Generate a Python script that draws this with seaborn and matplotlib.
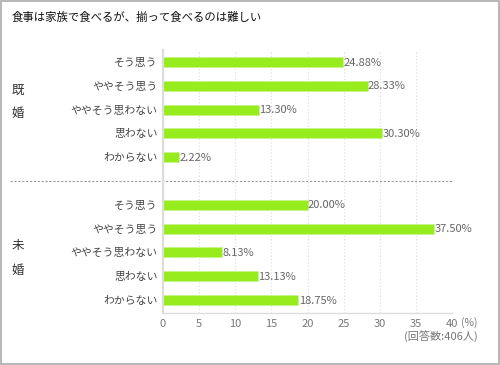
import pandas as pd
import matplotlib
matplotlib.use("Agg")
import matplotlib.pyplot as plt
import matplotlib.transforms as mtransforms
from matplotlib.patches import Rectangle
import seaborn as sns

# data
answers = ["そう思う", "ややそう思う", "ややそう思わない", "思わない", "わからない"]
married = [24.88, 28.33, 13.30, 30.30, 2.22]
unmarried = [20.00, 37.50, 8.13, 13.13, 18.75]
x_ticks = [0, 5, 10, 15, 20, 25, 30, 35, 40]

sns.set_style("white")
plt.rcParams['font.family'] = ['Noto Sans CJK JP', 'DejaVu Sans']

# one row per bar, unique key so both groups share one axis
rows = []
for a, v in zip(answers, married):
    rows.append({"key": "既婚_" + a, "answer": a, "value": v})
for a, v in zip(answers, unmarried):
    rows.append({"key": "未婚_" + a, "answer": a, "value": v})
df = pd.DataFrame(rows)
order = ["既婚_" + a for a in answers] + ["gap"] + ["未婚_" + a for a in answers]

fig = plt.figure(figsize=(5, 3.65), dpi=100)
ax = fig.add_axes([163 / 500, 1 - 313 / 365, 289 / 500, 263 / 365])

sns.barplot(data=df, x="value", y="key", order=order, orient="h",
            color="#96ec1c", saturation=1, width=0.42, ax=ax,
            edgecolor="#c6f58c", linewidth=0.4)

ax.set_xlim(0, 40)
ax.set_ylim(10.55, -0.5)
ax.set_xticks(x_ticks)
ax.set_xticklabels([str(t) for t in x_ticks], fontsize=8, color="#777777")
ax.set_yticks([i for i, k in enumerate(order) if k != "gap"])
ax.set_yticklabels(answers + answers, fontsize=7.8, color="#444444")
ax.tick_params(axis="both", length=0, pad=4)
ax.set_xlabel("")
ax.set_ylabel("")

# dotted vertical grid
for t in x_ticks[1:]:
    ax.axvline(t, color="#dddddd", linestyle=(0, (1, 2)), linewidth=0.8, zorder=0)

for s in ["top", "right"]:
    ax.spines[s].set_visible(False)
ax.spines["left"].set_color("#dddddd")
ax.spines["left"].set_linewidth(1.6)
ax.spines["bottom"].set_color("#dddddd")
ax.spines["bottom"].set_linewidth(1.0)

# value labels
for i, k in enumerate(order):
    if k == "gap":
        continue
    v = df.loc[df["key"] == k, "value"].iloc[0]
    ax.text(v + 0.05, i + 0.03, f"{v:.2f}%", va="center", ha="left",
            fontsize=8, color="#666666")

# dashed separator between groups
trans = mtransforms.blended_transform_factory(ax.transAxes, ax.transData)
ax.plot([(10 - 163) / 289, 1], [5, 5], transform=trans, clip_on=False,
        color="#999999", linestyle=(0, (2, 1.5)), linewidth=0.8)

# group labels
fig.text(18 / 500, 1 - 90 / 365, "既", fontsize=9, color="#333333", ha="center", va="center")
fig.text(18 / 500, 1 - 113 / 365, "婚", fontsize=9, color="#333333", ha="center", va="center")
fig.text(18 / 500, 1 - 246 / 365, "未", fontsize=9, color="#333333", ha="center", va="center")
fig.text(18 / 500, 1 - 270 / 365, "婚", fontsize=9, color="#333333", ha="center", va="center")

# title and notes
fig.text(12 / 500, 1 - 17 / 365, "食事は家族で食べるが、揃って食べるのは難しい",
         fontsize=8.2, color="#111111", ha="left", va="center")
fig.text(478 / 500, 1 - 323 / 365, "(%)", fontsize=7.5, color="#777777", ha="right", va="center")
fig.text(478 / 500, 1 - 337 / 365, "(回答数:406人)", fontsize=8, color="#777777", ha="right", va="center")

# outer border
fig.patches.append(Rectangle((0.002, 0.003), 0.995, 0.995, transform=fig.transFigure,
                             fill=False, edgecolor="#aaaaaa", linewidth=1.2))

fig.savefig("out.png", dpi=100)
